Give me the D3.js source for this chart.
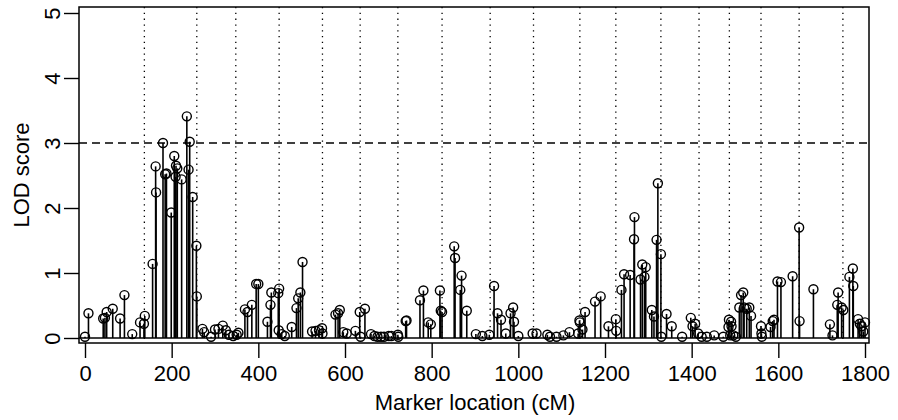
<!DOCTYPE html>
<meta charset="utf-8">
<script src="https://d3js.org/d3.v7.min.js"></script>
<style>
  body { margin: 0; background: #fff; }
  text { font-family: "Liberation Sans", Arial, Helvetica, sans-serif; fill: #000; }
</style>
<div id="chart"></div>
<script>

// marker positions (cM) and their LOD scores
var markerPos = [0, 8, 42, 46, 50, 64, 81, 91, 109, 127, 136, 138,
  156, 163, 164, 180, 185, 188, 199, 206, 209, 210, 213, 223, 235, 239, 241.6, 248.5, 257, 258,
  271, 275, 291, 300, 308, 318, 325, 332, 342, 350, 354,
  369, 375, 385, 395, 400, 421, 428, 430, 446, 447, 448, 454, 461,
  477, 488, 492, 497, 502, 524, 532, 540, 547, 548,
  578, 584, 588, 596, 604, 624, 634, 636, 646,
  660, 668, 675, 683, 690, 701, 707, 722, 723,
  740, 742, 773, 781, 792, 798, 819, 821, 824,
  852, 854, 866, 869, 881, 902, 917, 933,
  944, 952, 960, 971, 982, 988, 990, 1000, 1033,
  1042, 1067, 1073, 1088, 1104, 1118, 1138, 1141, 1142,
  1148, 1154, 1177, 1190, 1208, 1225, 1226,
  1238, 1244, 1258, 1267, 1268, 1282, 1286, 1291, 1294, 1308, 1313, 1319, 1322, 1329,
  1330, 1342, 1354, 1378, 1398, 1402, 1408, 1415,
  1423, 1435, 1452, 1473, 1485, 1486, 1489, 1491, 1492, 1496,
  1502, 1510, 1514, 1519, 1521, 1527, 1533, 1537, 1560, 1561, 1562,
  1582, 1587, 1590, 1598, 1606, 1633, 1648, 1649,
  1681, 1719, 1725, 1736, 1738, 1746, 1750,
  1764, 1772, 1773, 1784, 1788, 1792, 1796, 1800];

var lodScore = [0.02, 0.38, 0.3, 0.31, 0.4, 0.45, 0.3, 0.66, 0.06, 0.24, 0.22, 0.34,
  1.14, 2.64, 2.24, 3.0, 2.52, 2.53, 1.93, 2.8, 2.48, 2.65, 2.61, 2.44, 3.41, 2.59, 3.02, 2.17, 1.42, 0.64,
  0.14, 0.09, 0.02, 0.13, 0.14, 0.19, 0.12, 0.05, 0.03, 0.05, 0.08,
  0.44, 0.4, 0.51, 0.83, 0.83, 0.25, 0.51, 0.7, 0.69, 0.12, 0.76, 0.06, 0.03,
  0.17, 0.46, 0.61, 0.7, 1.17, 0.1, 0.11, 0.12, 0.15, 0.07,
  0.36, 0.38, 0.43, 0.09, 0.07, 0.11, 0.4, 0.02, 0.45,
  0.06, 0.03, 0.02, 0.02, 0.02, 0.03, 0.03, 0.05, 0.02,
  0.26, 0.27, 0.58, 0.73, 0.24, 0.21, 0.73, 0.42, 0.4,
  1.41, 1.23, 0.74, 0.96, 0.42, 0.06, 0.03, 0.05,
  0.8, 0.38, 0.28, 0.07, 0.38, 0.47, 0.25, 0.03, 0.07,
  0.07, 0.05, 0.02, 0.02, 0.04, 0.09, 0.07, 0.27, 0.24,
  0.13, 0.4, 0.56, 0.64, 0.18, 0.29, 0.11,
  0.74, 0.98, 0.97, 1.52, 1.86, 0.9, 1.13, 0.94, 1.09, 0.43, 0.33, 1.51, 2.38, 1.29,
  0.02, 0.37, 0.18, 0.02, 0.31, 0.18, 0.22, 0.07,
  0.02, 0.02, 0.04, 0.02, 0.17, 0.28, 0.04, 0.25, 0.18, 0.04,
  0.02, 0.47, 0.66, 0.7, 0.47, 0.45, 0.47, 0.34, 0.18, 0.07, 0.02,
  0.17, 0.26, 0.28, 0.87, 0.86, 0.95, 1.7, 0.26,
  0.75, 0.21, 0.04, 0.51, 0.7, 0.47, 0.43,
  0.94, 1.07, 0.8, 0.29, 0.22, 0.18, 0.1, 0.24];

// chromosome boundaries (cM)
var chrBreaks = [137, 258, 348, 448, 548, 635, 722, 824, 935, 1035,
  1142, 1225, 1329, 1417, 1487, 1560, 1648, 1749];

var xTicks = [0, 200, 400, 600, 800, 1000, 1200, 1400, 1600, 1800];
var yTicks = [0, 1, 2, 3, 4, 5];
var threshold = 3;

var W = 898, H = 420;
var box = {left: 79, right: 869, top: 7, bottom: 343};

var svg = d3.select("#chart").append("svg")
  .attr("width", W).attr("height", H);

var x = d3.scaleLinear().domain([0, 1800]).range([85, 865]);
var y = d3.scaleLinear().domain([0, 5]).range([338, 13]);

// chromosome separators
svg.append("g").selectAll("line")
  .data(chrBreaks).join("line")
  .attr("x1", d => x(d)).attr("x2", d => x(d))
  .attr("y1", box.top).attr("y2", box.bottom)
  .attr("stroke", "#000").attr("stroke-width", 1.3)
  .attr("stroke-dasharray", "1.3,4.5");

// significance threshold
svg.append("line")
  .attr("x1", box.left).attr("x2", box.right)
  .attr("y1", y(threshold)).attr("y2", y(threshold))
  .attr("stroke", "#000").attr("stroke-width", 1.3)
  .attr("stroke-dasharray", "8,5");

// zero line
svg.append("line")
  .attr("x1", box.left).attr("x2", box.right)
  .attr("y1", y(0)).attr("y2", y(0))
  .attr("stroke", "#000").attr("stroke-width", 1.3);

var pts = markerPos.map((p, i) => ({pos: p, lod: lodScore[i]}));

// stems
svg.append("g").selectAll("line")
  .data(pts).join("line")
  .attr("x1", d => x(d.pos)).attr("x2", d => x(d.pos))
  .attr("y1", y(0)).attr("y2", d => y(d.lod))
  .attr("stroke", "#000").attr("stroke-width", 1.6);

// open circles
svg.append("g").selectAll("circle")
  .data(pts).join("circle")
  .attr("cx", d => x(d.pos)).attr("cy", d => y(d.lod))
  .attr("r", 4.5)
  .attr("fill", "none").attr("stroke", "#000").attr("stroke-width", 1.4);

// frame
svg.append("rect")
  .attr("x", box.left).attr("y", box.top)
  .attr("width", box.right - box.left).attr("height", box.bottom - box.top)
  .attr("fill", "none").attr("stroke", "#000").attr("stroke-width", 1.5);

// x axis
var xAxis = svg.append("g")
  .attr("transform", "translate(0," + box.bottom + ")")
  .call(d3.axisBottom(x).tickValues(xTicks).tickSize(15).tickPadding(7).tickFormat(d3.format("d")));
xAxis.select(".domain").remove();
xAxis.selectAll("line").attr("stroke-width", 1.4);
xAxis.selectAll("text").attr("font-size", 22).attr("font-family", "Liberation Sans, Arial, sans-serif");

// y axis with rotated labels
var yAxis = svg.append("g")
  .attr("transform", "translate(" + box.left + ",0)")
  .call(d3.axisLeft(y).tickValues(yTicks).tickSize(15).tickFormat(d3.format("d")));
yAxis.select(".domain").remove();
yAxis.selectAll("line").attr("stroke-width", 1.4);
yAxis.selectAll("text")
  .attr("font-size", 22).attr("font-family", "Liberation Sans, Arial, sans-serif")
  .attr("text-anchor", "middle").attr("dy", null)
  .attr("x", null)
  .attr("transform", "translate(-19,0) rotate(-90)");

// axis titles
svg.append("text")
  .attr("x", (x(0) + x(1800)) / 2).attr("y", 410)
  .attr("text-anchor", "middle").attr("font-size", 22)
  .text("Marker location (cM)");

svg.append("text")
  .attr("transform", "translate(29," + ((box.top + box.bottom) / 2) + ") rotate(-90)")
  .attr("text-anchor", "middle").attr("font-size", 22)
  .text("LOD score");

</script>
